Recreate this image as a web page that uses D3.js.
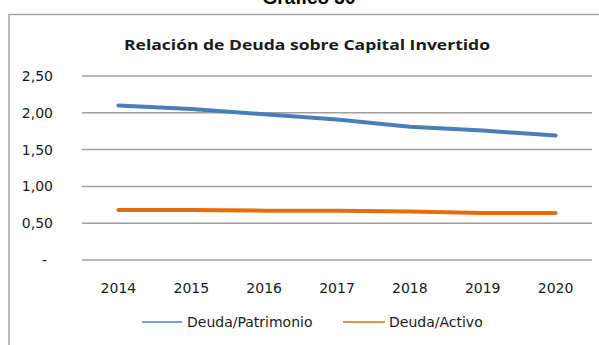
<!DOCTYPE html>
<html>
<head>
<meta charset="utf-8">
<script src="https://cdn.jsdelivr.net/npm/d3@7"></script>
<style>
  html, body { margin: 0; padding: 0; background: #fff; }
  svg { display: block; }
</style>
</head>
<body>
<svg id="chart" width="599" height="345"></svg>
<script>
// Debt ratios per year
const years = ["2014", "2015", "2016", "2017", "2018", "2019", "2020"];
const deudaPatrimonio = [2.10, 2.05, 1.98, 1.91, 1.81, 1.76, 1.69];
const deudaActivo = [0.68, 0.68, 0.67, 0.67, 0.66, 0.64, 0.64];
const yTicks = [0, 0.5, 1.0, 1.5, 2.0, 2.5];
const seriesNames = ["Deuda/Patrimonio", "Deuda/Activo"];
const seriesColors = ["#4a7ebb", "#e46c0a"];

const svg = d3.select("#chart");
const font = "'DejaVu Sans', sans-serif";

// Figure caption above the frame
svg.append("text")
  .attr("x", 309).attr("y", 4)
  .attr("text-anchor", "middle")
  .attr("font-family", "'Liberation Sans', Arial, sans-serif")
  .attr("font-weight", "bold")
  .attr("font-size", 19)
  .text("Gráfico 30");

// Chart frame (left and top edges visible)
svg.append("path")
  .attr("d", "M9,345 V14.5 H599")
  .attr("fill", "none")
  .attr("stroke", "#a6a6a6")
  .attr("stroke-width", 1.5);

svg.append("text")
  .attr("x", 307).attr("y", 50)
  .attr("text-anchor", "middle")
  .attr("font-family", "'Open Sans', sans-serif")
  .attr("font-weight", "bold")
  .attr("font-size", 15)
  .attr("textLength", 366)
  .attr("lengthAdjust", "spacingAndGlyphs")
  .attr("fill", "#1a1a1a")
  .text("Relación de Deuda sobre Capital  Invertido");

const plot = { left: 82, right: 592, top: 76, bottom: 260 };

const x = d3.scaleBand().domain(years).range([plot.left, plot.right]);
const y = d3.scaleLinear().domain([0, 2.5]).range([plot.bottom, plot.top]);

const fmt = v => v === 0 ? "-" : d3.format(".2f")(v).replace(".", ",");

// Horizontal gridlines
svg.append("g")
  .selectAll("line")
  .data(yTicks)
  .join("line")
  .attr("x1", plot.left).attr("x2", plot.right)
  .attr("y1", d => y(d)).attr("y2", d => y(d))
  .attr("stroke", "#a0a0a0")
  .attr("stroke-width", 1.5);

// Y axis labels
const yAxis = d3.axisLeft(y).tickValues(yTicks).tickFormat(fmt).tickSize(0).tickPadding(0);
const gy = svg.append("g")
  .attr("transform", `translate(53,0)`)
  .call(yAxis);
gy.select(".domain").remove();
gy.selectAll("text")
  .attr("font-family", font)
  .attr("font-size", 14)
  .attr("fill", "#1a1a1a")
  .attr("dx", d => d === 0 ? -6 : 0);

// X axis labels
const xAxis = d3.axisBottom(x).tickSize(0).tickPadding(0);
const gx = svg.append("g")
  .attr("transform", `translate(0,283)`)
  .call(xAxis);
gx.select(".domain").remove();
gx.selectAll("text")
  .attr("font-family", font)
  .attr("font-size", 14)
  .attr("fill", "#1a1a1a");

// Lines
const line = d3.line()
  .x((d, i) => x(years[i]) + x.bandwidth() / 2)
  .y(d => y(d));

[deudaPatrimonio, deudaActivo].forEach((vals, i) => {
  svg.append("path")
    .datum(vals)
    .attr("d", line)
    .attr("fill", "none")
    .attr("stroke", seriesColors[i])
    .attr("stroke-width", 4)
    .attr("stroke-linecap", "round")
    .attr("stroke-linejoin", "round");
});

// Legend
const legendItems = [
  { x1: 142, x2: 182, tx: 187 },
  { x1: 343, x2: 385, tx: 389 }
];
const lg = svg.append("g");
legendItems.forEach((it, i) => {
  lg.append("line")
    .attr("x1", it.x1).attr("x2", it.x2)
    .attr("y1", 322).attr("y2", 322)
    .attr("stroke", seriesColors[i])
    .attr("stroke-width", 1.5);
  lg.append("text")
    .attr("x", it.tx).attr("y", 327)
    .attr("font-family", font)
    .attr("font-size", 14)
    .attr("fill", "#1a1a1a")
    .text(seriesNames[i]);
});
</script>
</body>
</html>
